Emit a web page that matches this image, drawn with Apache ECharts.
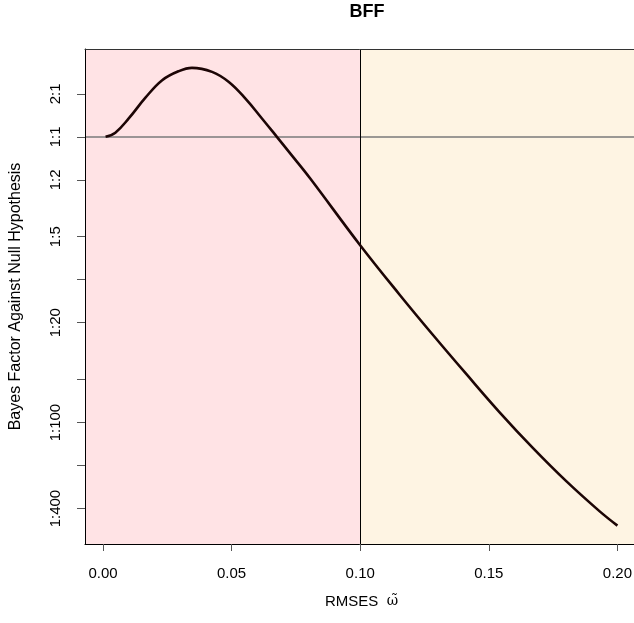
<!DOCTYPE html>
<html>
<head>
<meta charset="utf-8">
<script src="https://cdn.jsdelivr.net/npm/echarts@6/dist/echarts.min.js"></script>
<style>html,body{margin:0;padding:0;background:#fff}#c{width:634px;height:623px}</style>
</head>
<body>
<div id="c"></div>
<script>
// ---- data ----
const rmses = [0.001, 0.0048, 0.010, 0.0165, 0.023, 0.0294, 0.0346, 0.0424, 0.0488, 0.0553, 0.0618, 0.0676, 0.0734, 0.0805, 0.0999, 0.1154, 0.1283, 0.1413, 0.1542, 0.1671, 0.1801, 0.193, 0.200];
const bayesFactor = [1.0, 1.07, 1.345, 1.88, 2.49, 2.88, 3.04, 2.85, 2.43, 1.86, 1.345, 1.0, 0.742, 0.513, 0.175, 0.0782, 0.0410, 0.0218, 0.0118, 0.00665, 0.00389, 0.0024, 0.0019];
const xTicks = [0, 0.05, 0.10, 0.15, 0.20];
const xTickLabels = ['0.00', '0.05', '0.10', '0.15', '0.20'];
const yTicks = [2, 1, 0.5, 0.2, 0.1, 0.05, 0.02, 0.01, 0.005, 0.0025];
const yTickLabels = ['2:1', '1:1', '1:2', '1:5', '', '1:20', '', '1:100', '', '1:400'];
const cutoff = 0.10;
const xMin = -0.007, xMax = 0.208;
const yMinBF = 1 / 708, yMaxBF = 4.12;

const chart = echarts.init(document.getElementById('c'), null, {renderer: 'canvas'});
const font = 'Liberation Sans, Arial, Helvetica, sans-serif';
const lg = v => Math.log10(v);
const yTickLog = yTicks.map(lg);
const lineData = rmses.map((x, i) => [x, lg(bayesFactor[i])]);

function yLabel(v) {
  let best = 0, d = Infinity;
  yTickLog.forEach((t, i) => { const dd = Math.abs(t - v); if (dd < d) { d = dd; best = i; } });
  return yTickLabels[best];
}
function xLabel(v) {
  let best = 0, d = Infinity;
  xTicks.forEach((t, i) => { const dd = Math.abs(t - v); if (dd < d) { d = dd; best = i; } });
  return xTickLabels[best];
}

chart.setOption({
  animation: false,
  backgroundColor: '#ffffff',
  title: {
    text: 'BFF', left: 362, top: -2, textAlign: 'center',
    textStyle: {fontFamily: font, fontSize: 18, fontWeight: 'bold', color: '#000'}
  },
  grid: {left: 85, top: 49, width: 553, height: 495, containLabel: false, outerBoundsMode: 'none'},
  xAxis: [{
    type: 'value', min: xMin, max: xMax, position: 'bottom', z: 10,
    name: '{a|RMSES\u00a0\u00a0}{b|\u03c9\u0303}', nameLocation: 'middle', nameGap: 50,
    nameTextStyle: {
      fontFamily: font, fontSize: 15, color: '#000',
      rich: {
        a: {fontFamily: font, fontSize: 15, color: '#000'},
        b: {fontFamily: 'DejaVu Serif, serif', fontSize: 14, color: '#000'}
      }
    },
    axisLine: {show: true, onZero: false, lineStyle: {color: '#000', width: 1}},
    axisTick: {show: true, inside: false, length: 7, customValues: xTicks, lineStyle: {color: '#555'}},
    axisLabel: {customValues: xTicks, formatter: xLabel, margin: 22, fontFamily: font, fontSize: 15, color: '#000', hideOverlap: false},
    splitLine: {show: false}
  }, {
    type: 'value', min: xMin, max: xMax, position: 'top', z: 10,
    axisLine: {show: true, onZero: false, lineStyle: {color: '#333', width: 1}},
    axisTick: {show: false}, axisLabel: {show: false}, splitLine: {show: false}
  }],
  yAxis: {
    type: 'value', min: lg(yMinBF), max: lg(yMaxBF), z: 10,
    name: 'Bayes Factor Against Null Hypothesis', nameLocation: 'middle', nameGap: 61,
    nameTextStyle: {fontFamily: font, fontSize: 16, color: '#000'},
    axisLine: {show: true, onZero: false, lineStyle: {color: '#000', width: 1}},
    axisTick: {show: true, inside: false, length: 8, customValues: yTickLog, lineStyle: {color: '#555'}},
    axisLabel: {customValues: yTickLog, formatter: yLabel, rotate: 90, margin: 22, fontFamily: font, fontSize: 15, color: '#000'},
    splitLine: {show: false}
  },
  series: [{
    type: 'line', data: [], z: 1, silent: true,
    markArea: {
      silent: true,
      data: [
        [{xAxis: xMin, itemStyle: {color: '#FFE3E5'}}, {xAxis: cutoff}],
        [{xAxis: cutoff, itemStyle: {color: '#FEF4E3'}}, {xAxis: xMax}]
      ]
    }
  }, {
    type: 'line', data: [], z: 3, silent: true,
    markLine: {
      silent: true, symbol: 'none', label: {show: false},
      data: [
        {yAxis: 0, lineStyle: {color: '#7a7a7a', width: 1.6, type: 'solid'}},
        {xAxis: cutoff, lineStyle: {color: '#000', width: 1, type: 'solid'}}
      ]
    }
  }, {
    type: 'line', data: lineData, z: 5, showSymbol: false, smooth: 0.4,
    lineStyle: {color: '#1c0505', width: 2.6}
  }]
});
</script>
</body>
</html>
